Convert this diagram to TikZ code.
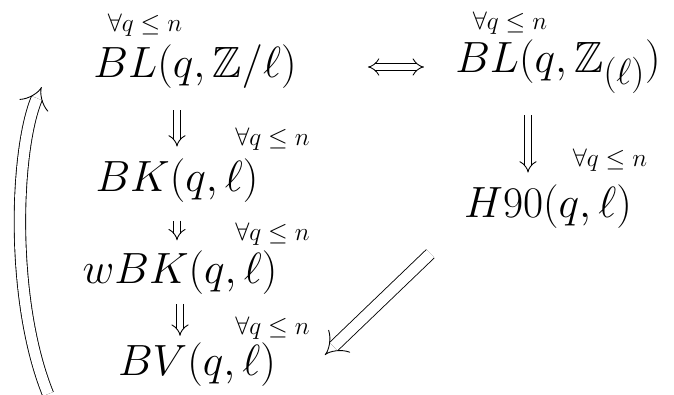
\documentclass[tikz,border=0pt]{standalone}
\usepackage{amsmath,amssymb}
\usetikzlibrary{arrows.meta,positioning}

\begin{document}
\begin{tikzpicture}[
  stmt/.style={inner sep=2pt,font=\Huge},
  quant/.style={inner sep=1pt,font=\Large},
  imp/.style={double,double distance=3pt,line width=0.5pt,-{Implies},
              shorten <=10pt,shorten >=5pt},
  bigimp/.style={imp,double distance=6pt,shorten <=0pt,shorten >=0pt}
]
\useasboundingbox (0,0) rectangle (13.48,-7.88);

\node[stmt]  (bll) at (3.9,-1.34)  {$BL(q,\mathbb{Z}/\ell)$};
\node[quant] (qa)  at (2.9,-0.5)   {$\forall q\leq n$};
\node[stmt]  (blr) at (11.16,-1.34) {$BL(q,\mathbb{Z}_{(\ell)})$};
\node[quant] (qb)  at (10.2,-0.46) {$\forall q\leq n$};
\node[stmt]  (h90) at (10.96,-4.14) {$H90(q,\ell)$};
\node[quant] (qc)  at (12.2,-3.2)  {$\forall q\leq n$};
\node[stmt]  (bk)  at (3.54,-3.62) {$BK(q,\ell)$};
\node[quant] (qd)  at (5.45,-2.78) {$\forall q\leq n$};
\node[stmt]  (wbk) at (3.6,-5.46)  {$wBK(q,\ell)$};
\node[quant] (qe)  at (5.45,-4.68) {$\forall q\leq n$};
\node[stmt]  (bv)  at (3.94,-7.30) {$BV(q,\ell)$};
\node[quant] (qf)  at (5.45,-6.56) {$\forall q\leq n$};
\coordinate (tail) at (0.96,-7.88);

% implications
\draw[imp,{Implies}-{Implies},shorten <=1.35cm,shorten >=0.55cm] (bll.east) -- (blr.west);
\draw[imp] (bll.south -| bk.north) -- (bk.north);
\draw[imp,shorten <=8pt,shorten >=4pt] (bk.south) -- (bk.south |- wbk.north);
\draw[imp,shorten <=3pt,shorten >=2pt] (wbk.south) -- (wbk.south |- bv.north);
\draw[imp] ([xshift=-0.6cm]blr.south) -- ([xshift=-0.6cm]blr.south |- h90.north);
\draw[bigimp] ([xshift=-0.6cm,yshift=-0.42cm]h90.south west) -- ([xshift=0.9cm,yshift=0.2cm]bv.east);
\draw[bigimp] (tail) .. controls (0.2,-6.0) and (0.3,-3.0) .. ([xshift=-0.96cm,yshift=-0.4cm]bll.west);
\end{tikzpicture}
\end{document}
